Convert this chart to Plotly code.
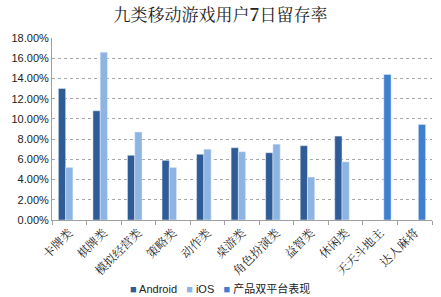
import plotly.graph_objects as go

categories = ["卡牌类", "棋牌类", "模拟经营类", "策略类", "动作类", "桌游类",
              "角色扮演类", "益智类", "休闲类", "天天斗地主", "达人麻将"]
android = [0.130, 0.108, 0.064, 0.059, 0.065, 0.0715, 0.0665, 0.0735, 0.083, None, None]
ios = [0.052, 0.166, 0.087, 0.052, 0.070, 0.0675, 0.075, 0.0425, 0.0575, None, None]
dual = [None, None, None, None, None, None, None, None, None, 0.144, 0.0945]
y_ticks = [0, 0.02, 0.04, 0.06, 0.08, 0.10, 0.12, 0.14, 0.16, 0.18]
series_names = ["Android", "iOS", "产品双平台表现"]
series_colors = ["#2F5C96", "#8EB4E3", "#3F7FD0"]

cjk = "Noto Serif CJK SC, Noto Sans CJK SC, serif"
fig = go.Figure()
for name, vals, col in zip(series_names, [android, ios, dual], series_colors):
    fig.add_bar(x=categories, y=vals, name=name, marker_color=col, showlegend=False)

# compact legend as one annotation built from the series names/colours
parts = []
for name, col in zip(series_names, series_colors):
    parts.append(f"<span style='color:{col}'>■</span> {name}")
legend_text = "&nbsp;&nbsp;&nbsp;".join(parts)
fig.add_annotation(text=legend_text, xref="paper", yref="paper", x=0.442, y=-0.374,
                   xanchor="center", yanchor="middle", showarrow=False,
                   font=dict(family="Liberation Sans, Arial, Noto Sans CJK SC", size=11,
                             color="#222222"))

fig.update_layout(
    width=441, height=297,
    margin=dict(l=52, r=9, t=38, b=77),
    paper_bgcolor="white", plot_bgcolor="white",
    barmode="group", bargap=0.37, bargroupgap=0.0,
    title=dict(text="九类移动游戏用户<b>7</b>日留存率", x=0.5, xanchor="center",
               y=0.948, yanchor="middle",
               font=dict(family=cjk, size=17, color="#222222")),
    showlegend=False,
    xaxis=dict(tickangle=-45, tickfont=dict(family=cjk, size=12, color="#222222"),
               showline=True, linecolor="#A0A0A0", linewidth=1,
               ticks="outside", ticklen=4, tickcolor="#A0A0A0", tickson="boundaries",
               showgrid=False, automargin=False),
    yaxis=dict(range=[0, 0.18], tickvals=y_ticks, tickformat=".2%",
               tickfont=dict(family="Liberation Sans, Arial", size=11, color="#222222"),
               showline=True, linecolor="#A0A0A0", linewidth=1,
               showgrid=True, gridcolor="#A8A8A8", griddash="dot", gridwidth=1,
               zeroline=False, ticks="", ticklen=0, automargin=False),
)
fig.write_html("out.html", config={"displayModeBar": False},
               post_script="document.body.style.margin='0';")
